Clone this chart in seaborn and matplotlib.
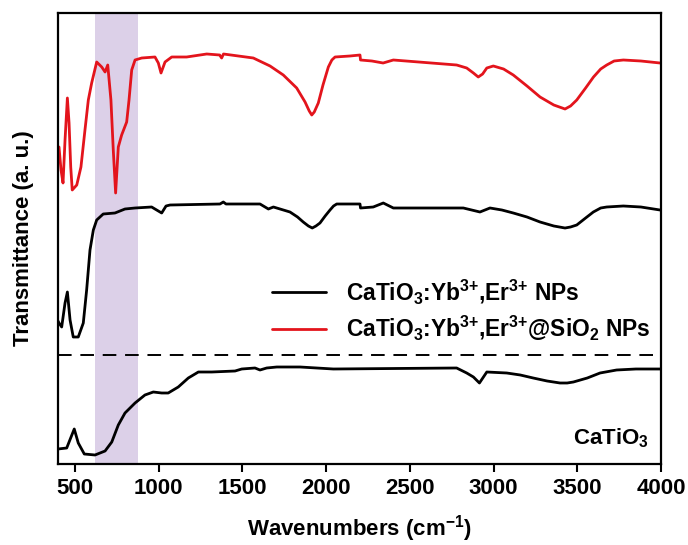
import numpy as np
import pandas as pd
import seaborn as sns
import matplotlib
matplotlib.use("Agg")
import matplotlib.pyplot as plt

# FTIR spectra (wavenumber in cm^-1, transmittance in arbitrary offset units)
coated_wn = [400, 406, 418, 430, 442, 456, 466, 476, 485, 512, 537, 561, 581, 601, 631, 661,
             681, 697, 716, 730, 744, 760, 780, 810, 824, 840, 860, 900, 979, 999, 1015, 1039,
             1079, 1168, 1288, 1365, 1377, 1388, 1566, 1666, 1745, 1825, 1875, 1900, 1915, 1930,
             1954, 1982, 2014, 2035, 2054, 2143, 2203, 2206, 2274, 2341, 2402, 2780, 2840, 2880,
             2909, 2935, 2960, 2999, 3060, 3118, 3200, 3278, 3360, 3427, 3460, 3497, 3550, 3597,
             3640, 3676, 3720, 3775, 3880, 3994]
coated_t = [317, 317, 294, 281, 324, 366, 341, 297, 274, 279, 297, 334, 364, 381, 402, 397,
            392, 399, 364, 314, 271, 317, 329, 342, 364, 394, 404, 406, 407, 401, 391, 402,
            407, 407, 410, 409, 406, 410, 406, 398, 389, 376, 362, 353, 349, 352,
            361, 379, 397, 404, 407, 408, 409, 404, 403, 401, 404, 399, 396, 391,
            387, 390, 396, 398, 395, 389, 378, 367, 359, 355, 358, 364, 376, 387,
            395, 399, 403, 404, 403, 401]

doped_wn = [400, 406, 422, 442, 456, 472, 491, 521, 551, 571, 591, 611, 631, 670, 740, 800,
            860, 959, 1019, 1045, 1069, 1367, 1387, 1403, 1606, 1656, 1686, 1785, 1830, 1864,
            1895, 1918, 1940, 1964, 1995, 2024, 2045, 2064, 2203, 2206, 2282, 2342, 2402, 2820,
            2919, 2979, 3050, 3118, 3200, 3278, 3360, 3427, 3460, 3497, 3550, 3596, 3640, 3676,
            3775, 3880, 3994]
doped_t = [143, 141, 137, 161, 172, 144, 127, 127, 141, 174, 214, 234, 244, 250, 251, 255,
           256, 257, 251, 258, 259, 260, 262, 260, 260, 255, 257, 252, 247, 242,
           238, 236, 238, 241, 248, 254, 258, 260, 260, 256, 257, 261, 256, 256,
           252, 256, 254, 251, 247, 242, 238, 236, 237, 239, 246, 252, 256, 257,
           258, 257, 254]

bare_wn = [400, 452, 478, 497, 521, 557, 621, 681, 721, 760, 800, 860, 919, 969, 1019, 1058,
           1118, 1178, 1238, 1318, 1457, 1497, 1576, 1606, 1646, 1706, 1845, 2044, 2780, 2840,
           2880, 2916, 2960, 3079, 3160, 3237, 3320, 3397, 3440, 3477, 3560, 3636, 3735, 3850,
           3994]
bare_t = [15, 16, 27, 35, 21, 10, 9, 13, 22, 39, 51, 61, 69, 72, 71, 71,
          77, 86, 92, 92, 93, 95, 96, 94, 96, 97, 97, 95, 96, 91,
          87, 81, 92, 91, 89, 86, 83, 81, 81, 82, 86, 91, 94, 95,
          95]

band_lo, band_hi = 620, 875
separator_level = 109

labels = {
    "bare": r"CaTiO$_3$",
    "doped": r"CaTiO$_3$:Yb$^{3{+}}$,Er$^{3{+}}$ NPs",
    "coated": r"CaTiO$_3$:Yb$^{3{+}}$,Er$^{3{+}}$@SiO$_2$ NPs",
}

df = pd.concat([
    pd.DataFrame({"wn": coated_wn, "t": coated_t, "sample": "coated"}),
    pd.DataFrame({"wn": doped_wn, "t": doped_t, "sample": "doped"}),
    pd.DataFrame({"wn": bare_wn, "t": bare_t, "sample": "bare"}),
], ignore_index=True)

sns.set_style("ticks")
plt.rcParams["font.family"] = ["Liberation Sans", "DejaVu Sans"]
plt.rcParams["font.weight"] = "bold"
plt.rcParams["text.color"] = "black"
plt.rcParams["axes.labelcolor"] = "black"
plt.rcParams["xtick.color"] = "black"
plt.rcParams["axes.edgecolor"] = "black"
plt.rcParams["mathtext.fontset"] = "custom"
plt.rcParams["mathtext.rm"] = "Liberation Sans:bold"
plt.rcParams["mathtext.it"] = "Liberation Sans:bold"
plt.rcParams["mathtext.bf"] = "Liberation Sans:bold"
plt.rcParams["mathtext.default"] = "rm"

fig = plt.figure(figsize=(6.88, 5.45), dpi=100)
ax = fig.add_axes([58 / 688, 81 / 545, 603 / 688, 451 / 545])

ax.axvspan(band_lo, band_hi, color="#dcd0e8", zorder=0, lw=0)

palette = {"coated": "#e3141c", "doped": "#000000", "bare": "#000000"}
for key in ["coated", "doped", "bare"]:
    sns.lineplot(data=df[df["sample"] == key], x="wn", y="t", sort=False, estimator=None,
                 color=palette[key], lw=2.0, ax=ax, label=labels[key] if key != "bare" else None)

ax.axhline(separator_level, color="black", lw=1.4, dashes=(7, 4.5))

ax.set_xlim(400, 4000)
ax.set_ylim(0, 451)
ax.set_xticks(np.arange(500, 4001, 500))
ax.set_yticks([])
ax.tick_params(axis="x", direction="out", length=6, width=1.5, labelsize=16, pad=4,
               colors="black")
for lab in ax.get_xticklabels():
    lab.set_fontweight("bold")
for sp in ax.spines.values():
    sp.set_linewidth(1.6)
    sp.set_color("black")
    sp.set_visible(True)

ax.set_xlabel(r"Wavenumbers (cm$^{-1}$)", fontsize=16, fontweight="bold", labelpad=10)
ax.set_ylabel("Transmittance (a. u.)", fontsize=16, fontweight="bold", labelpad=17)

ax.text(3930, 26, labels["bare"], fontsize=16, fontweight="bold", ha="right", va="center")

handles, texts = ax.get_legend_handles_labels()
order = [texts.index(labels["doped"]), texts.index(labels["coated"])]
leg = ax.legend([handles[i] for i in order], [texts[i] for i in order],
                loc="center left", bbox_to_anchor=((272 - 58) / 603, (464 - 310) / 451),
                frameon=False, fontsize=16.4, handlelength=2.35, handletextpad=0.9,
                labelspacing=0.35, borderpad=0, borderaxespad=0)
for t in leg.get_texts():
    t.set_color("black")

fig.savefig("out.png", dpi=100)
